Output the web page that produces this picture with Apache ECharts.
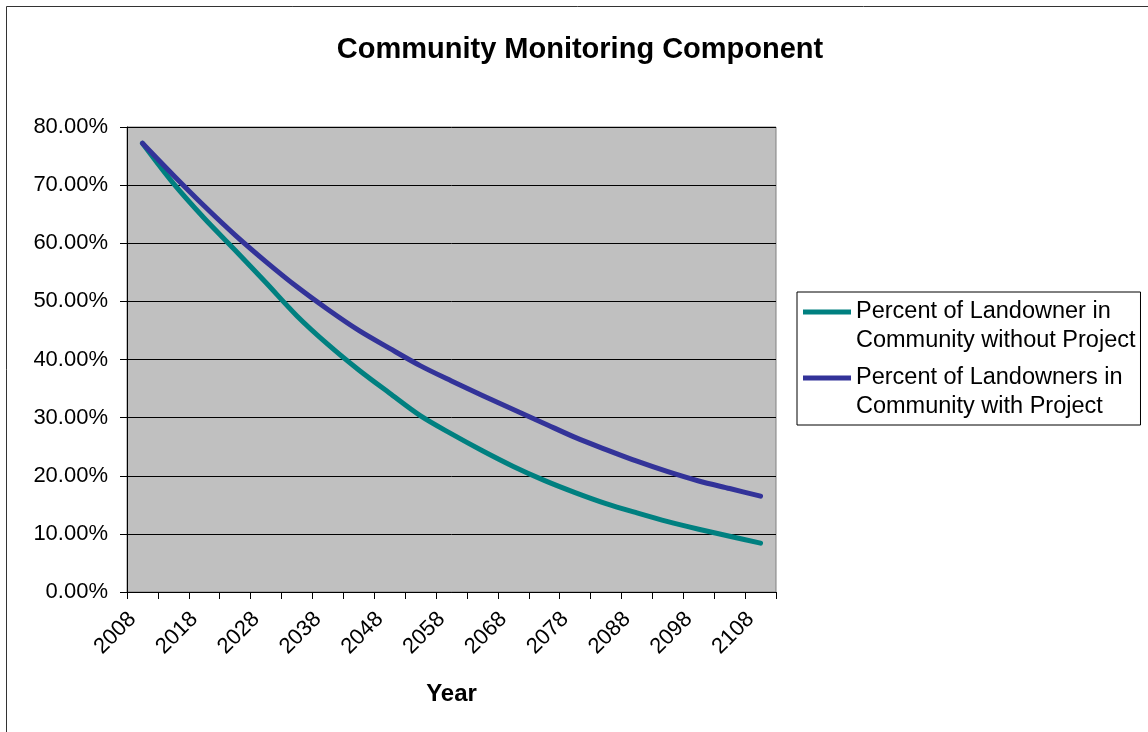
<!DOCTYPE html>
<html>
<head>
<meta charset="utf-8">
<script src="https://cdn.jsdelivr.net/npm/echarts@6/dist/echarts.min.js"></script>
<style>
html,body{margin:0;padding:0;background:#fff;}
#chart{width:1148px;height:732px;}
</style>
</head>
<body>
<div id="chart"></div>
<script>
const years = ['2008','2013','2018','2023','2028','2033','2038','2043','2048','2053','2058',
  '2063','2068','2073','2078','2083','2088','2093','2098','2103','2108'];
const withoutProject = [77.2,70.3,64.3,58.8,53.2,47.5,42.6,38.2,34.2,30.3,27.2,
  24.3,21.6,19.2,17.1,15.2,13.6,12.1,10.8,9.6,8.4];
const withProject = [77.2,71.7,66.4,61.4,56.8,52.5,48.6,45.0,41.9,38.9,36.3,
  33.8,31.4,29.0,26.6,24.5,22.5,20.7,19.1,17.8,16.5];
const seriesNames = ['Percent of Landowner in\nCommunity without Project',
  'Percent of Landowners in\nCommunity with Project'];
const titleText = 'Community Monitoring Component';
const xName = 'Year';

const FONT = '"Liberation Sans", Arial, sans-serif';
const chart = echarts.init(document.getElementById('chart'), null, {renderer:'canvas'});
const legendIcon = 'path://M0,0L0.01,0L0.01,0.01Z M0,12.5L48,12.5L48,17.5L0,17.5Z M0,57.99L0.01,57.99L0.01,58Z';

chart.setOption({
  backgroundColor: '#ffffff',
  animation: false,
  textStyle: {fontFamily: FONT},
  title: {
    text: titleText,
    left: 580,
    textAlign: 'center',
    top: 35,
    padding: 0,
    textStyle: {fontFamily: FONT, fontSize: 29, fontWeight: 'bold', color: '#000'}
  },
  graphic: [{
    type: 'rect',
    shape: {x: 6.5, y: 6.5, width: 1200, height: 800},
    style: {fill: 'none', stroke: '#333', lineWidth: 1},
    silent: true,
    z: 100
  }],
  grid: {
    left: 127, top: 127, right: 372, bottom: 140,
    show: true,
    backgroundColor: '#C0C0C0',
    borderColor: '#808080',
    borderWidth: 1,
    containLabel: false
  },
  legend: {
    orient: 'vertical',
    left: 797, top: 292,
    padding: [5, 5, 4, 6],
    itemWidth: 48, itemHeight: 58, itemGap: 8,
    icon: legendIcon,
    itemStyle: {borderWidth: 0},
    backgroundColor: '#fff',
    borderColor: '#000', borderWidth: 1,
    textStyle: {fontFamily: FONT, fontSize: 23.5, lineHeight: 29, color: '#000'},
    data: seriesNames
  },
  xAxis: {
    type: 'category',
    data: years,
    boundaryGap: true,
    name: xName,
    nameLocation: 'middle',
    nameGap: 90,
    nameTextStyle: {fontFamily: FONT, fontSize: 24, fontWeight: 'bold', color: '#000'},
    axisLine: {lineStyle: {color: '#000', width: 1}},
    axisTick: {show: true, interval: 0, length: 7, lineStyle: {color: '#000'}},
    axisLabel: {interval: 1, rotate: 45, margin: 14, padding: [0, 14, 0, 0],
      fontFamily: FONT, fontSize: 22, color: '#000'},
    splitLine: {show: false}
  },
  yAxis: {
    type: 'value',
    min: 0, max: 80, interval: 10,
    axisLine: {show: true, lineStyle: {color: '#000', width: 1}},
    axisTick: {show: true, length: 7, lineStyle: {color: '#000'}},
    axisLabel: {margin: 19, fontFamily: FONT, fontSize: 22, color: '#000',
      formatter: v => v.toFixed(2) + '%'},
    splitLine: {show: true, lineStyle: {color: '#000', width: 1}}
  },
  series: [
    {
      name: seriesNames[0], type: 'line', data: withoutProject,
      smooth: 0.3, symbol: 'none',
      lineStyle: {color: '#008080', width: 5, cap: 'round', join: 'round'},
      itemStyle: {color: '#008080'}
    },
    {
      name: seriesNames[1], type: 'line', data: withProject,
      smooth: 0.3, symbol: 'none',
      lineStyle: {color: '#333399', width: 5, cap: 'round', join: 'round'},
      itemStyle: {color: '#333399'}
    }
  ]
});
</script>
</body>
</html>
